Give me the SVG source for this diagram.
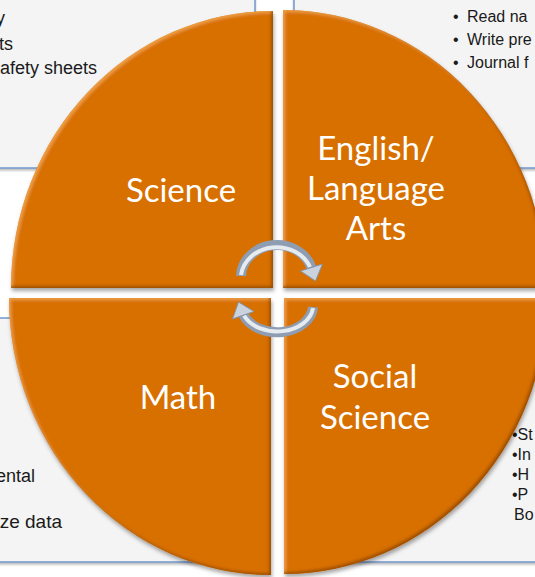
<svg xmlns="http://www.w3.org/2000/svg" width="535" height="577" viewBox="0 0 535 577">
  <style>
    .box { fill: #F4F4F4; stroke: #7197CB; stroke-width: 1.5; }
    .btxt { font-family: "Liberation Sans", Arial, sans-serif; fill: #1a1a1a; }
    .quad { fill: #D86F05; filter: url(#bev); }
    .lbl { font-family: Lato, "Open Sans", sans-serif; font-size: 33px; fill: #FFFFFF; text-anchor: middle; }
    .arrow-body { fill: none; stroke: #8E9DB2; stroke-width: 10; }
    .arrow-hi { fill: none; stroke: #E6EBF0; stroke-width: 4; }
    .arrow-head { fill: #C9D2DD; stroke: #8392A8; stroke-width: 1; stroke-linejoin: round; }
  </style>
  <defs>
    <filter id="bev" x="-5%" y="-5%" width="112%" height="112%">
      <feGaussianBlur in="SourceAlpha" stdDeviation="1.5" result="blur"/>
      <feOffset in="blur" dx="2" dy="2" result="offA"/>
      <feComposite in="SourceAlpha" in2="offA" operator="out" result="hiMask"/>
      <feFlood flood-color="#F7AE50" flood-opacity="0.7" result="hiC"/>
      <feComposite in="hiC" in2="hiMask" operator="in" result="hi"/>
      <feOffset in="blur" dx="-2" dy="-2" result="offB"/>
      <feComposite in="SourceAlpha" in2="offB" operator="out" result="shMask"/>
      <feFlood flood-color="#7E3F00" flood-opacity="0.75" result="shC"/>
      <feComposite in="shC" in2="shMask" operator="in" result="sh"/>
      <feOffset in="blur" dx="1" dy="3" result="ds0"/>
      <feGaussianBlur in="ds0" stdDeviation="1.5" result="ds1"/>
      <feFlood flood-color="#000000" flood-opacity="0.35" result="dsC"/>
      <feComposite in="dsC" in2="ds1" operator="in" result="ds"/>
      <feMerge>
        <feMergeNode in="ds"/>
        <feMergeNode in="SourceGraphic"/>
        <feMergeNode in="hi"/>
        <feMergeNode in="sh"/>
      </feMerge>
    </filter>
    <filter id="boxsh" x="-5%" y="-5%" width="110%" height="110%">
      <feDropShadow dx="0" dy="2" stdDeviation="1.2" flood-color="#000" flood-opacity="0.25"/>
    </filter>
  </defs>

  <rect width="535" height="577" fill="#FFFFFF"/>

  <g id="textboxes">
    <g id="box-tl">
      <rect class="box" x="-10" y="-10" width="265" height="178" filter="url(#boxsh)"/>
      <text class="btxt" font-size="18" text-anchor="end" x="5" y="24">y</text>
      <text class="btxt" font-size="18" text-anchor="end" x="13" y="50">ts</text>
      <text class="btxt" font-size="18" text-anchor="end" x="97" y="74">afety sheets</text>
    </g>
    <g id="box-tr">
      <rect class="box" x="294" y="-10" width="260" height="178" filter="url(#boxsh)"/>
      <text class="btxt" font-size="16" x="453" y="22">•</text>
      <text class="btxt" font-size="16" x="467" y="22">Read na</text>
      <text class="btxt" font-size="16" x="453" y="45">•</text>
      <text class="btxt" font-size="16" x="467" y="45">Write pre</text>
      <text class="btxt" font-size="16" x="453" y="68">•</text>
      <text class="btxt" font-size="16" x="467" y="68">Journal f</text>
    </g>
    <g id="box-bl">
      <rect class="box" x="-10" y="318" width="265" height="244" filter="url(#boxsh)"/>
      <text class="btxt" font-size="18" text-anchor="end" x="35" y="482">ental</text>
      <text class="btxt" font-size="19" text-anchor="end" x="62" y="528">ze data</text>
    </g>
    <g id="box-br">
      <rect class="box" x="294" y="318" width="260" height="244" filter="url(#boxsh)"/>
      <text class="btxt" font-size="16" x="512" y="440">•St</text>
      <text class="btxt" font-size="16" x="512" y="460">•In</text>
      <text class="btxt" font-size="16" x="512" y="480">•H</text>
      <text class="btxt" font-size="16" x="512" y="500">•P</text>
      <text class="btxt" font-size="16" x="514" y="520">Bo</text>
    </g>
  </g>

  <g id="node-science">
    <path class="quad" d="M 273 288 L 11 288 A 262 277 0 0 1 273 11 Z"/>
    <text class="lbl" x="181" y="202">Science</text>
  </g>
  <g id="node-ela">
    <path class="quad" d="M 283 288 L 283 10 A 263 278 0 0 1 546 288 Z"/>
    <text class="lbl" x="376" y="160">English/</text>
    <text class="lbl" x="376" y="200">Language</text>
    <text class="lbl" x="376" y="240">Arts</text>
  </g>
  <g id="node-math">
    <path class="quad" d="M 271 298 L 271 575 A 262 277 0 0 1 9 298 Z"/>
    <text class="lbl" x="178" y="409">Math</text>
  </g>
  <g id="node-social">
    <path class="quad" d="M 284 298 L 547 298 A 263 276 0 0 1 284 574 Z"/>
    <text class="lbl" x="375" y="388">Social</text>
    <text class="lbl" x="375" y="429">Science</text>
  </g>

  <g id="connectors">
    <g id="arrow-top">
      <path class="arrow-body" d="M 241 276 A 36 32 0 0 1 311.5 268"/>
      <path class="arrow-hi" d="M 241 275 A 36 32 0 0 1 310 267"/>
      <polygon class="arrow-head" points="300.5,271 322.5,264 315.5,281"/>
    </g>
    <g id="arrow-bottom">
      <path class="arrow-body" d="M 313 307 A 36 27 0 0 1 243.5 315"/>
      <path class="arrow-hi" d="M 313 308 A 36 26 0 0 1 244 315.5"/>
      <polygon class="arrow-head" points="254,311.5 232.5,319 238.5,302"/>
    </g>
  </g>
</svg>
